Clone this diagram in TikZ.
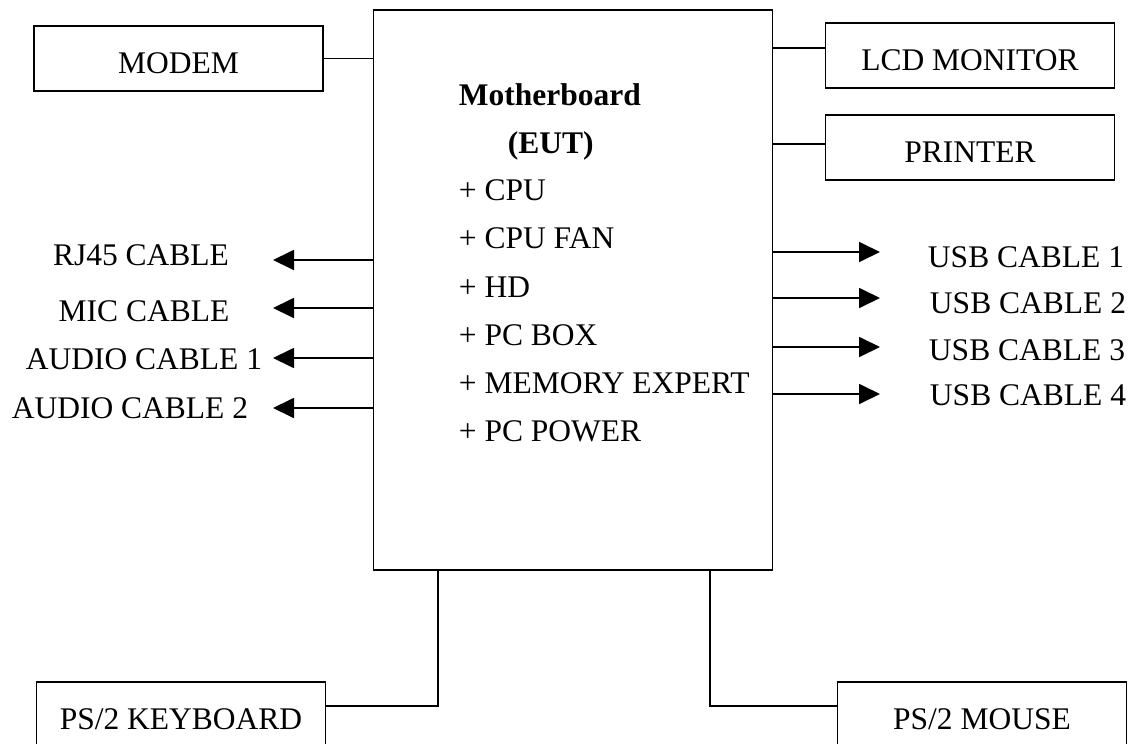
\documentclass[tikz,border=0pt]{standalone}
\usepackage{fontspec}
\setmainfont{Liberation Serif}
\usetikzlibrary{arrows.meta}
\begin{document}
\begin{tikzpicture}[x=1pt,y=-1pt, line width=1.8pt,
  every node/.style={font=\fontsize{31.5}{38}\selectfont},
  dev/.style={draw, minimum width=289pt, minimum height=65pt, text height=29pt, text depth=0pt, inner sep=0pt},
  lbl/.style={anchor=base, inner sep=0pt},
  itm/.style={anchor=base west, inner sep=0pt},
  arr/.style={-{Triangle[length=21pt,width=20pt]}}]
\clip (0,0) rectangle (1136,744);
\fill[white] (0,0) rectangle (1136,744);
% main board
\node[draw, minimum width=399pt, minimum height=560pt, inner sep=0pt] (mb) at (573,290) {};
\node[itm] (t0) at (458,105) {\bfseries Motherboard};
\node[itm] (t1) at (507,153) {\bfseries (EUT)};
\node[itm] (t2) at (458,200) {+ CPU};
\node[itm] (t3) at (458,248) {+ CPU FAN};
\node[itm] (t4) at (458,297) {+ HD};
\node[itm] (t5) at (458,345) {+ PC BOX};
\node[itm] (t6) at (458,393) {+ MEMORY EXPERT};
\node[itm] (t7) at (458,441) {+ PC POWER};
% devices
\node[dev] (modem) at (178.5,58.5) {MODEM};
\node[dev] (lcd) at (970,55.5) {LCD MONITOR};
\node[dev] (prt) at (970,147.5) {PRINTER};
\node[dev] (kb) at (181,714.5) {PS/2 KEYBOARD};
\node[dev] (ms) at (982,714.5) {PS/2 MOUSE};
% device connectors
\draw (modem.east) -- (modem.east -| mb.west);
\coordinate (lcdy) at (0,48);
\draw (mb.east |- lcdy) -- (lcd.west |- lcdy);
\coordinate (prty) at (0,144);
\draw (mb.east |- prty) -- (prt.west |- prty);
\coordinate (kbc) at (438,706);
\draw (kb.east |- kbc) -- (kbc) -- (kbc |- mb.south);
\coordinate (msc) at (710,706);
\draw (ms.west |- msc) -- (msc) -- (msc |- mb.south);
% left cables
\node[lbl] (l1) at (141,265) {RJ45 CABLE};
\node[lbl] (l2) at (144,321) {MIC CABLE};
\node[lbl] (l3) at (144,369) {AUDIO CABLE 1};
\node[lbl] (l4) at (130,418) {AUDIO CABLE 2};
\coordinate (a1) at (273,260);
\coordinate (a2) at (273,308);
\coordinate (a3) at (273,358);
\coordinate (a4) at (273,408);
\draw[arr] (mb.west |- a1) -- (a1);
\draw[arr] (mb.west |- a2) -- (a2);
\draw[arr] (mb.west |- a3) -- (a3);
\draw[arr] (mb.west |- a4) -- (a4);
% right cables
\node[lbl] (r1) at (1026,267) {USB CABLE 1};
\node[lbl] (r2) at (1028,313) {USB CABLE 2};
\node[lbl] (r3) at (1027,360) {USB CABLE 3};
\node[lbl] (r4) at (1028,405) {USB CABLE 4};
\coordinate (b1) at (880,252);
\coordinate (b2) at (880,298);
\coordinate (b3) at (880,347);
\coordinate (b4) at (880,394);
\draw[arr] (mb.east |- b1) -- (b1);
\draw[arr] (mb.east |- b2) -- (b2);
\draw[arr] (mb.east |- b3) -- (b3);
\draw[arr] (mb.east |- b4) -- (b4);
\end{tikzpicture}
\end{document}
